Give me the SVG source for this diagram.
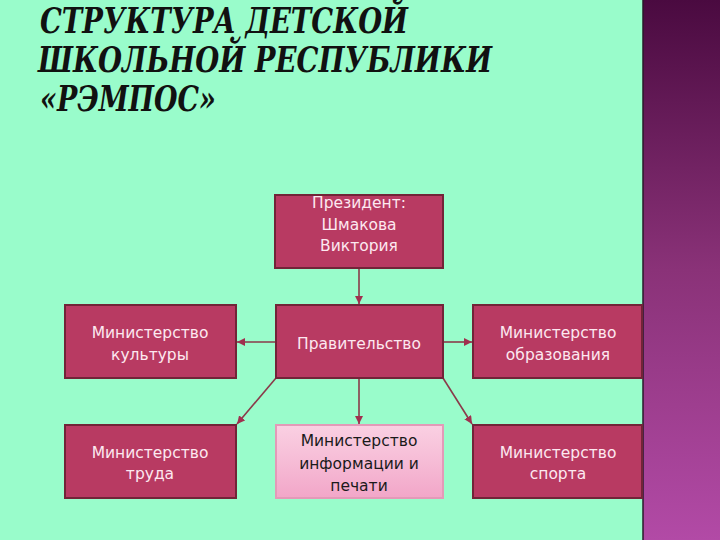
<svg xmlns="http://www.w3.org/2000/svg" width="720" height="540" viewBox="0 0 720 540">
<defs>
<linearGradient id="side" x1="0" y1="0" x2="0" y2="1">
<stop offset="0" stop-color="#4a0a40"/>
<stop offset="0.5" stop-color="#8a3278"/>
<stop offset="1" stop-color="#b24aa6"/>
</linearGradient>
<linearGradient id="light" x1="0" y1="0" x2="0" y2="1">
<stop offset="0" stop-color="#fad0e2"/>
<stop offset="0.5" stop-color="#f6bcd6"/>
<stop offset="1" stop-color="#f2a6c8"/>
</linearGradient>
<marker id="arr" viewBox="0 0 10 10" refX="10" refY="5" markerWidth="5" markerHeight="5" orient="auto">
<path d="M0,0 L10,5 L0,10 z" fill="#a0304f"/>
</marker>
</defs>
<style>
.box{fill:#b83a62;stroke:#722438;stroke-width:2}
.lbox{fill:url(#light);stroke:#e39ab8;stroke-width:2}
.t{font-family:"DejaVu Sans","Liberation Sans",sans-serif;font-size:15.5px;fill:#fde8f0;text-anchor:middle}
.td{fill:#1a1a1a}
.c{stroke:#8a3a4a;stroke-width:1.6;fill:none;marker-end:url(#arr)}
.title{font-family:"DejaVu Serif",serif;font-weight:bold;font-style:italic;font-size:36px;fill:#111}
</style>
<rect width="720" height="540" fill="#99fccb"/>
<rect x="643" y="0" width="77" height="540" fill="url(#side)"/>
<line x1="643" y1="0" x2="643" y2="540" stroke="#2a1a2a" stroke-width="1.5"/>
<g id="title">
<text class="title" x="40" y="33" textLength="368" lengthAdjust="spacingAndGlyphs">СТРУКТУРА ДЕТСКОЙ</text>
<text class="title" x="38" y="72" textLength="454" lengthAdjust="spacingAndGlyphs">ШКОЛЬНОЙ РЕСПУБЛИКИ</text>
<text class="title" x="40" y="111" textLength="176" lengthAdjust="spacingAndGlyphs">«РЭМПОС»</text>
</g>
<g id="connectors">
<line class="c" x1="359" y1="268" x2="359" y2="304"/>
<line class="c" x1="276" y1="342" x2="237" y2="342"/>
<line class="c" x1="443" y1="342" x2="472" y2="342"/>
<line class="c" x1="276" y1="378" x2="237" y2="424"/>
<line class="c" x1="359" y1="378" x2="359" y2="424"/>
<line class="c" x1="443" y1="378" x2="472" y2="424"/>
</g>
<g id="president">
<rect class="box" x="275" y="195" width="168" height="73"/>
<text class="t" x="359" y="208">Президент:</text>
<text class="t" x="359" y="230">Шмакова</text>
<text class="t" x="359" y="251">Виктория</text>
</g>
<g id="culture">
<rect class="box" x="65" y="305" width="171" height="73"/>
<text class="t" x="150" y="338">Министерство</text>
<text class="t" x="150" y="360">культуры</text>
</g>
<g id="government">
<rect class="box" x="276" y="305" width="167" height="73"/>
<text class="t" x="359" y="349">Правительство</text>
</g>
<g id="education">
<rect class="box" x="473" y="305" width="169" height="73"/>
<text class="t" x="558" y="338">Министерство</text>
<text class="t" x="558" y="360">образования</text>
</g>
<g id="labor">
<rect class="box" x="65" y="425" width="171" height="73"/>
<text class="t" x="150" y="458">Министерство</text>
<text class="t" x="150" y="479">труда</text>
</g>
<g id="info">
<rect class="lbox" x="276" y="425" width="167" height="73"/>
<text class="t td" x="359" y="446">Министерство</text>
<text class="t td" x="359" y="469">информации и</text>
<text class="t td" x="359" y="491">печати</text>
</g>
<g id="sport">
<rect class="box" x="473" y="425" width="169" height="73"/>
<text class="t" x="558" y="458">Министерство</text>
<text class="t" x="558" y="479">спорта</text>
</g>
</svg>
